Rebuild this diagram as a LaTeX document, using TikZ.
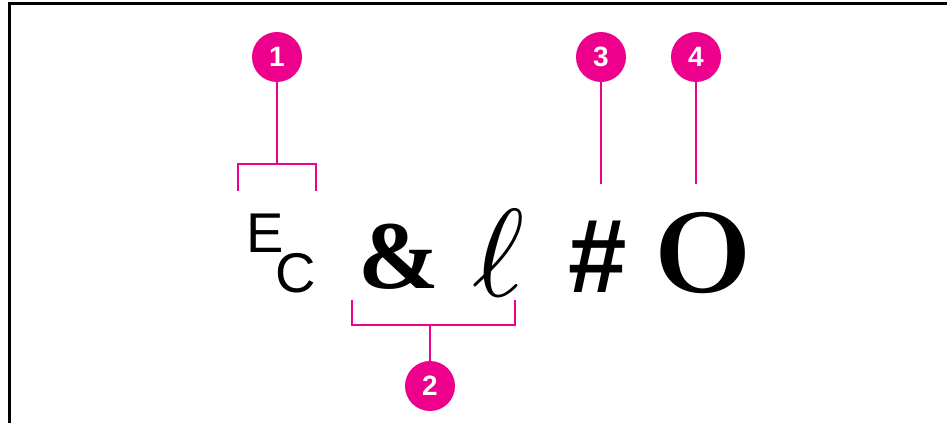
\documentclass[tikz,border=0pt]{standalone}
\usepackage{fontspec}
\newfontfamily\arialf{Liberation Sans}
\newfontfamily\timesf{Liberation Serif}
\definecolor{mag}{HTML}{EC008C}
\begin{document}
\begin{tikzpicture}[x=1pt,y=-1pt,
  callout/.style={circle,fill=mag,minimum size=50pt,inner sep=0pt,text=white,font=\arialf\bfseries\fontsize{28}{28}\selectfont},
  lead/.style={draw=mag,line width=2pt},
  glyph/.style={inner sep=0pt,anchor=base west}]
\useasboundingbox (0,0) rectangle (947,423);
\draw[line width=3pt] (9.5,423) -- (9.5,3.5) -- (947,3.5);
% glyphs
\node[glyph,font=\arialf\fontsize{56}{56}\selectfont] (e) at (246,252) {E};
\node[glyph,font=\arialf\fontsize{56}{56}\selectfont] (c) at (275,292) {C};
\node[glyph,font=\timesf\bfseries\fontsize{97}{97}\selectfont] (amp) at (358,288) {\&};
\node[glyph,font=\fontsize{10}{10}\selectfont,scale=12.5] (ell) at (470,296) {$\ell$};
\node[glyph,font=\arialf\bfseries\fontsize{105}{105}\selectfont] (hash) at (568,292) {\#};
\node[glyph,font=\bfseries\fontsize{10}{10}\selectfont,scale=11.5] (oo) at (651,292) {O};
% callouts
\node[callout] (n1) at (277,57) {1};
\node[callout] (n2) at (430,386) {2};
\node[callout] (n3) at (601,57) {3};
\node[callout] (n4) at (696,57) {4};
% bracket 1
\coordinate (b1m) at (277,164);
\coordinate (b1l) at (238,164);
\coordinate (b1r) at (316,164);
\coordinate (b1ld) at (238,191);
\coordinate (b1rd) at (316,191);
\draw[lead] (n1) -- (b1m);
\draw[lead] (b1ld) -- (b1l) -- (b1r) -- (b1rd);
% bracket 2
\coordinate (b2m) at (430,325);
\coordinate (b2l) at (352,325);
\coordinate (b2r) at (515,325);
\coordinate (b2lu) at (352,300);
\coordinate (b2ru) at (515,300);
\draw[lead] (n2) -- (b2m);
\draw[lead] (b2lu) -- (b2l) -- (b2r) -- (b2ru);
% leads 3,4
\coordinate (t3) at (601,184);
\coordinate (t4) at (696,184);
\draw[lead] (n3) -- (t3);
\draw[lead] (n4) -- (t4);
\end{tikzpicture}
\end{document}
